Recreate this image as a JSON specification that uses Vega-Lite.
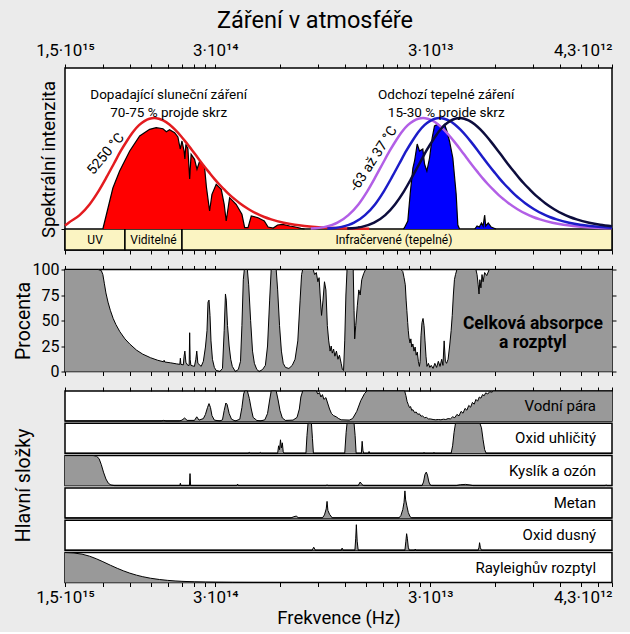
{
"$schema": "https://vega.github.io/schema/vega-lite/v6.json",
"background": "#ebebeb",
"padding": {"left": 12, "right": 17, "top": 8, "bottom": 4},
"title": {"text": "Záření v atmosféře", "fontSize": 23.5, "font": "Roboto", "fontWeight": "normal", "anchor": "middle", "offset": 8, "color": "black"},
"datasets": {
"bands": [
{"lo":0.2,"hi":0.38,"mid":0.276,"name":"UV"},
{"lo":0.38,"hi":0.7,"mid":0.516,"name":"Viditelné"},
{"lo":0.7,"hi":70,"mid":6.77,"name":"Infračervené (tepelné)"}
],
"notes": [
{"p":"head","wl":0.607,"v":134,"t":"Dopadající sluneční záření\n70-75 % projde skrz"},
{"p":"head","wl":11.86,"v":134,"t":"Odchozí tepelné záření\n15-30 % projde skrz"},
{"p":"sun","wl":0.31,"v":75,"t":"5250 °C"},
{"p":"earth","wl":5.46,"v":70,"t":"-63 až 37 °C"},
{"p":"pct","wl":30,"v":46.5,"t":"Celková absorpce\na rozptyl"},
{"p":"Vodní pára","wl":59,"v":50,"t":"Vodní pára"},
{"p":"Oxid uhličitý","wl":59,"v":50,"t":"Oxid uhličitý"},
{"p":"Kyslík a ozón","wl":59,"v":50,"t":"Kyslík a ozón"},
{"p":"Metan","wl":59,"v":50,"t":"Metan"},
{"p":"Oxid dusný","wl":59,"v":50,"t":"Oxid dusný"},
{"p":"Rayleighův rozptyl","wl":59,"v":50,"t":"Rayleighův rozptyl"}
],
"fill": [
{"s":"sun","g":1,"wl":0.3,"v":0},{"s":"sun","g":1,"wl":0.317,"v":21},{"s":"sun","g":1,"wl":0.334,"v":41},{"s":"sun","g":1,"wl":0.359,"v":58},{"s":"sun","g":1,"wl":0.4,"v":78},{"s":"sun","g":1,"wl":0.445,"v":93},{"s":"sun","g":1,"wl":0.495,"v":99.7},{"s":"sun","g":1,"wl":0.531,"v":101.3},{"s":"sun","g":1,"wl":0.571,"v":100.3},{"s":"sun","g":1,"wl":0.592,"v":97.3},{"s":"sun","g":1,"wl":0.613,"v":99.3},{"s":"sun","g":1,"wl":0.647,"v":96.3},{"s":"sun","g":1,"wl":0.67,"v":92},{"s":"sun","g":1,"wl":0.687,"v":80},{"s":"sun","g":1,"wl":0.7,"v":88},{"s":"sun","g":1,"wl":0.716,"v":78},{"s":"sun","g":1,"wl":0.722,"v":70},{"s":"sun","g":1,"wl":0.73,"v":84.7},{"s":"sun","g":1,"wl":0.746,"v":80},{"s":"sun","g":1,"wl":0.76,"v":50},{"s":"sun","g":1,"wl":0.772,"v":74.7},{"s":"sun","g":1,"wl":0.801,"v":69.7},{"s":"sun","g":1,"wl":0.822,"v":59.7},{"s":"sun","g":1,"wl":0.846,"v":68},{"s":"sun","g":1,"wl":0.892,"v":61.3},{"s":"sun","g":1,"wl":0.91,"v":41.3},{"s":"sun","g":1,"wl":0.941,"v":18},{"s":"sun","g":1,"wl":0.965,"v":34.7},{"s":"sun","g":1,"wl":1.01,"v":44.7},{"s":"sun","g":1,"wl":1.066,"v":39.7},{"s":"sun","g":1,"wl":1.1,"v":24.7},{"s":"sun","g":1,"wl":1.124,"v":8},{"s":"sun","g":1,"wl":1.166,"v":31.3},{"s":"sun","g":1,"wl":1.25,"v":24.7},{"s":"sun","g":1,"wl":1.33,"v":14.7},{"s":"sun","g":1,"wl":1.37,"v":1.3},{"s":"sun","g":1,"wl":1.42,"v":1.3},{"s":"sun","g":1,"wl":1.47,"v":13},{"s":"sun","g":1,"wl":1.58,"v":11.3},{"s":"sun","g":1,"wl":1.69,"v":8},{"s":"sun","g":1,"wl":1.76,"v":2},{"s":"sun","g":1,"wl":1.86,"v":1},{"s":"sun","g":1,"wl":1.95,"v":4},{"s":"sun","g":1,"wl":2.06,"v":4.7},{"s":"sun","g":1,"wl":2.22,"v":3},{"s":"sun","g":1,"wl":2.36,"v":2},{"s":"sun","g":1,"wl":2.5,"v":0.7},{"s":"sun","g":1,"wl":2.6,"v":0},
{"s":"earth","g":1,"wl":4.55,"v":0},{"s":"earth","g":1,"wl":4.65,"v":2},{"s":"earth","g":1,"wl":4.75,"v":1},{"s":"earth","g":1,"wl":4.85,"v":0},
{"s":"earth","g":2,"wl":7.5,"v":0},{"s":"earth","g":2,"wl":7.57,"v":1},{"s":"earth","g":2,"wl":7.86,"v":8},{"s":"earth","g":2,"wl":8.06,"v":35},{"s":"earth","g":2,"wl":8.3,"v":61},{"s":"earth","g":2,"wl":8.45,"v":68},{"s":"earth","g":2,"wl":8.69,"v":85},{"s":"earth","g":2,"wl":8.91,"v":78},{"s":"earth","g":2,"wl":9.23,"v":80},{"s":"earth","g":2,"wl":9.4,"v":65},{"s":"earth","g":2,"wl":9.64,"v":58},{"s":"earth","g":2,"wl":9.92,"v":71},{"s":"earth","g":2,"wl":10.2,"v":91},{"s":"earth","g":2,"wl":10.46,"v":103},{"s":"earth","g":2,"wl":10.84,"v":104.7},{"s":"earth","g":2,"wl":11.23,"v":101},{"s":"earth","g":2,"wl":11.65,"v":104.7},{"s":"earth","g":2,"wl":11.94,"v":98},{"s":"earth","g":2,"wl":12.28,"v":88},{"s":"earth","g":2,"wl":12.73,"v":71},{"s":"earth","g":2,"wl":13.19,"v":35},{"s":"earth","g":2,"wl":13.43,"v":4},{"s":"earth","g":2,"wl":13.68,"v":0},
{"s":"earth","g":3,"wl":16.1,"v":0},{"s":"earth","g":3,"wl":16.5,"v":3},{"s":"earth","g":3,"wl":16.9,"v":2},{"s":"earth","g":3,"wl":17.3,"v":6},{"s":"earth","g":3,"wl":17.6,"v":3},{"s":"earth","g":3,"wl":17.9,"v":14},{"s":"earth","g":3,"wl":18.1,"v":3},{"s":"earth","g":3,"wl":18.6,"v":6},{"s":"earth","g":3,"wl":19.2,"v":2},{"s":"earth","g":3,"wl":20.2,"v":0}
],
"curves": [
{"s":"5250 °C","wl":0.2,"v":3.5},{"s":"5250 °C","wl":0.208,"v":6.3},{"s":"5250 °C","wl":0.234,"v":13.9},{"s":"5250 °C","wl":0.26,"v":24.6},{"s":"5250 °C","wl":0.286,"v":37.7},{"s":"5250 °C","wl":0.312,"v":51.8},{"s":"5250 °C","wl":0.338,"v":65.5},{"s":"5250 °C","wl":0.364,"v":78.3},{"s":"5250 °C","wl":0.39,"v":88.8},{"s":"5250 °C","wl":0.416,"v":97.5},{"s":"5250 °C","wl":0.442,"v":103.8},{"s":"5250 °C","wl":0.468,"v":107.9},{"s":"5250 °C","wl":0.494,"v":110.3},{"s":"5250 °C","wl":0.52,"v":111},{"s":"5250 °C","wl":0.546,"v":110.3},{"s":"5250 °C","wl":0.572,"v":108.6},{"s":"5250 °C","wl":0.61,"v":104.8},{"s":"5250 °C","wl":0.65,"v":99.3},{"s":"5250 °C","wl":0.69,"v":93.2},{"s":"5250 °C","wl":0.728,"v":87.1},{"s":"5250 °C","wl":0.78,"v":78.8},{"s":"5250 °C","wl":0.832,"v":70.8},{"s":"5250 °C","wl":0.884,"v":63.3},{"s":"5250 °C","wl":0.936,"v":56.6},{"s":"5250 °C","wl":0.988,"v":50.4},{"s":"5250 °C","wl":1.04,"v":45},{"s":"5250 °C","wl":1.1,"v":39.6},{"s":"5250 °C","wl":1.17,"v":33.9},{"s":"5250 °C","wl":1.235,"v":29.6},{"s":"5250 °C","wl":1.3,"v":25.8},{"s":"5250 °C","wl":1.43,"v":19.8},{"s":"5250 °C","wl":1.56,"v":15.3},{"s":"5250 °C","wl":1.69,"v":12},{"s":"5250 °C","wl":1.82,"v":9.6},{"s":"5250 °C","wl":2.08,"v":6.3},{"s":"5250 °C","wl":2.34,"v":4.25},{"s":"5250 °C","wl":2.6,"v":3},{"s":"5250 °C","wl":3.12,"v":1.6},{"s":"5250 °C","wl":3.6,"v":0.95},{"s":"5250 °C","wl":4.16,"v":0.56},{"s":"5250 °C","wl":5.2,"v":0.25},
{"s":"37 °C","wl":2.78,"v":0.4},{"s":"37 °C","wl":3.24,"v":2.1},{"s":"37 °C","wl":3.7,"v":6.3},{"s":"37 °C","wl":4.16,"v":13.9},{"s":"37 °C","wl":4.63,"v":24.6},{"s":"37 °C","wl":5.09,"v":37.7},{"s":"37 °C","wl":5.55,"v":51.8},{"s":"37 °C","wl":6.01,"v":65.5},{"s":"37 °C","wl":6.48,"v":78.3},{"s":"37 °C","wl":6.94,"v":88.8},{"s":"37 °C","wl":7.4,"v":97.5},{"s":"37 °C","wl":7.86,"v":103.8},{"s":"37 °C","wl":8.33,"v":107.9},{"s":"37 °C","wl":8.79,"v":110.3},{"s":"37 °C","wl":9.25,"v":111},{"s":"37 °C","wl":9.71,"v":110.3},{"s":"37 °C","wl":10.18,"v":108.6},{"s":"37 °C","wl":10.85,"v":104.8},{"s":"37 °C","wl":11.56,"v":99.3},{"s":"37 °C","wl":12.27,"v":93.2},{"s":"37 °C","wl":12.95,"v":87.1},{"s":"37 °C","wl":13.88,"v":78.8},{"s":"37 °C","wl":14.8,"v":70.8},{"s":"37 °C","wl":15.73,"v":63.3},{"s":"37 °C","wl":16.65,"v":56.6},{"s":"37 °C","wl":17.58,"v":50.4},{"s":"37 °C","wl":18.5,"v":45},{"s":"37 °C","wl":19.56,"v":39.6},{"s":"37 °C","wl":20.81,"v":33.9},{"s":"37 °C","wl":21.97,"v":29.6},{"s":"37 °C","wl":23.13,"v":25.8},{"s":"37 °C","wl":25.44,"v":19.8},{"s":"37 °C","wl":27.75,"v":15.3},{"s":"37 °C","wl":30.06,"v":12},{"s":"37 °C","wl":32.38,"v":9.6},{"s":"37 °C","wl":37,"v":6.3},{"s":"37 °C","wl":41.63,"v":4.25},{"s":"37 °C","wl":46.25,"v":3},{"s":"37 °C","wl":55.5,"v":1.6},{"s":"37 °C","wl":70,"v":0.75},
{"s":"-13 °C","wl":3.32,"v":0.4},{"s":"-13 °C","wl":3.87,"v":2.1},{"s":"-13 °C","wl":4.42,"v":6.3},{"s":"-13 °C","wl":4.97,"v":13.9},{"s":"-13 °C","wl":5.53,"v":24.6},{"s":"-13 °C","wl":6.08,"v":37.7},{"s":"-13 °C","wl":6.63,"v":51.8},{"s":"-13 °C","wl":7.18,"v":65.5},{"s":"-13 °C","wl":7.74,"v":78.3},{"s":"-13 °C","wl":8.29,"v":88.8},{"s":"-13 °C","wl":8.84,"v":97.5},{"s":"-13 °C","wl":9.39,"v":103.8},{"s":"-13 °C","wl":9.95,"v":107.9},{"s":"-13 °C","wl":10.5,"v":110.3},{"s":"-13 °C","wl":11.05,"v":111},{"s":"-13 °C","wl":11.6,"v":110.3},{"s":"-13 °C","wl":12.16,"v":108.6},{"s":"-13 °C","wl":12.96,"v":104.8},{"s":"-13 °C","wl":13.81,"v":99.3},{"s":"-13 °C","wl":14.66,"v":93.2},{"s":"-13 °C","wl":15.47,"v":87.1},{"s":"-13 °C","wl":16.58,"v":78.8},{"s":"-13 °C","wl":17.68,"v":70.8},{"s":"-13 °C","wl":18.79,"v":63.3},{"s":"-13 °C","wl":19.89,"v":56.6},{"s":"-13 °C","wl":21,"v":50.4},{"s":"-13 °C","wl":22.1,"v":45},{"s":"-13 °C","wl":23.37,"v":39.6},{"s":"-13 °C","wl":24.86,"v":33.9},{"s":"-13 °C","wl":26.24,"v":29.6},{"s":"-13 °C","wl":27.63,"v":25.8},{"s":"-13 °C","wl":30.39,"v":19.8},{"s":"-13 °C","wl":33.15,"v":15.3},{"s":"-13 °C","wl":35.91,"v":12},{"s":"-13 °C","wl":38.68,"v":9.6},{"s":"-13 °C","wl":44.2,"v":6.3},{"s":"-13 °C","wl":49.73,"v":4.25},{"s":"-13 °C","wl":55.25,"v":3},{"s":"-13 °C","wl":66.3,"v":1.6},{"s":"-13 °C","wl":70,"v":1.35},
{"s":"-63 °C","wl":4.11,"v":0.4},{"s":"-63 °C","wl":4.8,"v":2.1},{"s":"-63 °C","wl":5.48,"v":6.3},{"s":"-63 °C","wl":6.17,"v":13.9},{"s":"-63 °C","wl":6.85,"v":24.6},{"s":"-63 °C","wl":7.54,"v":37.7},{"s":"-63 °C","wl":8.22,"v":51.8},{"s":"-63 °C","wl":8.91,"v":65.5},{"s":"-63 °C","wl":9.59,"v":78.3},{"s":"-63 °C","wl":10.28,"v":88.8},{"s":"-63 °C","wl":10.96,"v":97.5},{"s":"-63 °C","wl":11.65,"v":103.8},{"s":"-63 °C","wl":12.33,"v":107.9},{"s":"-63 °C","wl":13.02,"v":110.3},{"s":"-63 °C","wl":13.7,"v":111},{"s":"-63 °C","wl":14.39,"v":110.3},{"s":"-63 °C","wl":15.07,"v":108.6},{"s":"-63 °C","wl":16.07,"v":104.8},{"s":"-63 °C","wl":17.13,"v":99.3},{"s":"-63 °C","wl":18.18,"v":93.2},{"s":"-63 °C","wl":19.18,"v":87.1},{"s":"-63 °C","wl":20.55,"v":78.8},{"s":"-63 °C","wl":21.92,"v":70.8},{"s":"-63 °C","wl":23.29,"v":63.3},{"s":"-63 °C","wl":24.66,"v":56.6},{"s":"-63 °C","wl":26.03,"v":50.4},{"s":"-63 °C","wl":27.4,"v":45},{"s":"-63 °C","wl":28.98,"v":39.6},{"s":"-63 °C","wl":30.83,"v":33.9},{"s":"-63 °C","wl":32.54,"v":29.6},{"s":"-63 °C","wl":34.25,"v":25.8},{"s":"-63 °C","wl":37.68,"v":19.8},{"s":"-63 °C","wl":41.1,"v":15.3},{"s":"-63 °C","wl":44.53,"v":12},{"s":"-63 °C","wl":47.95,"v":9.6},{"s":"-63 °C","wl":54.8,"v":6.3},{"s":"-63 °C","wl":61.65,"v":4.25},{"s":"-63 °C","wl":70,"v":2.8}
],
"total": [
{"wl":0.2,"v":100},{"wl":0.285,"v":100},{"wl":0.295,"v":99},{"wl":0.3,"v":95},{"wl":0.305,"v":86},{"wl":0.31,"v":77},{"wl":0.317,"v":68},{"wl":0.325,"v":60},{"wl":0.335,"v":52},{"wl":0.345,"v":46},{"wl":0.36,"v":39},{"wl":0.38,"v":32},{"wl":0.4,"v":27},{"wl":0.43,"v":21},{"wl":0.46,"v":17},{"wl":0.5,"v":13.5},{"wl":0.54,"v":11},{"wl":0.575,"v":9.5},{"wl":0.578,"v":11},{"wl":0.582,"v":9.3},{"wl":0.62,"v":8.5},{"wl":0.66,"v":7.5},{"wl":0.684,"v":7},{"wl":0.688,"v":13},{"wl":0.692,"v":7},{"wl":0.71,"v":6.5},{"wl":0.716,"v":15},{"wl":0.722,"v":20},{"wl":0.73,"v":9},{"wl":0.745,"v":6},{"wl":0.756,"v":6},{"wl":0.76,"v":38},{"wl":0.764,"v":12},{"wl":0.77,"v":6},{"wl":0.8,"v":5},{"wl":0.812,"v":12},{"wl":0.82,"v":20},{"wl":0.83,"v":8},{"wl":0.86,"v":5},{"wl":0.88,"v":10},{"wl":0.9,"v":24},{"wl":0.915,"v":40},{"wl":0.925,"v":68},{"wl":0.935,"v":70},{"wl":0.945,"v":55},{"wl":0.955,"v":30},{"wl":0.97,"v":12},{"wl":0.99,"v":4},{"wl":1.01,"v":1},{"wl":1.05,"v":0},{"wl":1.08,"v":3},{"wl":1.1,"v":40},{"wl":1.115,"v":76},{"wl":1.125,"v":70},{"wl":1.14,"v":45},{"wl":1.16,"v":25},{"wl":1.18,"v":12},{"wl":1.2,"v":5},{"wl":1.24,"v":0},{"wl":1.28,"v":2},{"wl":1.31,"v":10},{"wl":1.33,"v":45},{"wl":1.35,"v":90},{"wl":1.365,"v":100},{"wl":1.41,"v":100},{"wl":1.43,"v":85},{"wl":1.46,"v":50},{"wl":1.49,"v":20},{"wl":1.52,"v":8},{"wl":1.56,"v":2},{"wl":1.6,"v":0},{"wl":1.66,"v":2},{"wl":1.71,"v":6},{"wl":1.75,"v":25},{"wl":1.79,"v":70},{"wl":1.82,"v":100},{"wl":1.92,"v":100},{"wl":1.95,"v":80},{"wl":1.99,"v":45},{"wl":2.03,"v":20},{"wl":2.07,"v":8},{"wl":2.12,"v":4},{"wl":2.2,"v":3},{"wl":2.28,"v":6},{"wl":2.35,"v":12},{"wl":2.42,"v":30},{"wl":2.48,"v":70},{"wl":2.52,"v":95},{"wl":2.55,"v":100},{"wl":2.85,"v":100},{"wl":2.9,"v":95},{"wl":2.95,"v":97},{"wl":3.0,"v":88},{"wl":3.04,"v":92},{"wl":3.08,"v":72},{"wl":3.12,"v":55},{"wl":3.17,"v":70},{"wl":3.22,"v":88},{"wl":3.27,"v":80},{"wl":3.32,"v":45},{"wl":3.37,"v":30},{"wl":3.42,"v":20},{"wl":3.46,"v":25},{"wl":3.5,"v":18},{"wl":3.55,"v":22},{"wl":3.6,"v":15},{"wl":3.66,"v":20},{"wl":3.72,"v":12},{"wl":3.78,"v":16},{"wl":3.85,"v":8},{"wl":3.9,"v":2},{"wl":3.95,"v":1},{"wl":4.0,"v":30},{"wl":4.05,"v":75},{"wl":4.1,"v":100},{"wl":4.38,"v":100},{"wl":4.42,"v":60},{"wl":4.45,"v":32},{"wl":4.5,"v":45},{"wl":4.58,"v":65},{"wl":4.65,"v":80},{"wl":4.72,"v":75},{"wl":4.8,"v":90},{"wl":4.9,"v":96},{"wl":5.0,"v":100},{"wl":7.3,"v":100},{"wl":7.45,"v":98},{"wl":7.55,"v":92},{"wl":7.65,"v":85},{"wl":7.72,"v":70},{"wl":7.78,"v":60},{"wl":7.85,"v":48},{"wl":7.9,"v":40},{"wl":7.96,"v":33},{"wl":8.05,"v":28},{"wl":8.12,"v":32},{"wl":8.2,"v":24},{"wl":8.3,"v":27},{"wl":8.4,"v":20},{"wl":8.5,"v":24},{"wl":8.6,"v":16},{"wl":8.7,"v":19},{"wl":8.8,"v":10},{"wl":8.9,"v":5},{"wl":8.97,"v":10},{"wl":9.05,"v":35},{"wl":9.15,"v":48},{"wl":9.25,"v":52},{"wl":9.35,"v":45},{"wl":9.45,"v":30},{"wl":9.55,"v":15},{"wl":9.65,"v":5},{"wl":9.8,"v":8},{"wl":9.95,"v":4},{"wl":10.1,"v":6},{"wl":10.3,"v":3},{"wl":10.5,"v":8},{"wl":10.7,"v":4},{"wl":10.9,"v":10},{"wl":11.1,"v":5},{"wl":11.3,"v":12},{"wl":11.45,"v":6},{"wl":11.6,"v":30},{"wl":11.75,"v":10},{"wl":11.9,"v":8},{"wl":12.1,"v":12},{"wl":12.3,"v":25},{"wl":12.5,"v":40},{"wl":12.65,"v":55},{"wl":12.8,"v":75},{"wl":12.95,"v":90},{"wl":13.1,"v":95},{"wl":13.3,"v":100},{"wl":16.3,"v":100},{"wl":16.5,"v":95},{"wl":16.7,"v":85},{"wl":16.85,"v":76},{"wl":17.0,"v":90},{"wl":17.2,"v":82},{"wl":17.4,"v":95},{"wl":17.6,"v":88},{"wl":17.9,"v":97},{"wl":18.3,"v":94},{"wl":18.8,"v":100},{"wl":70,"v":100}
],
"comp": [
{"c":"Vodní pára","wl":0.2,"v":0},{"c":"Vodní pára","wl":0.56,"v":0},{"c":"Vodní pára","wl":0.575,"v":2},{"c":"Vodní pára","wl":0.59,"v":0},{"c":"Vodní pára","wl":0.68,"v":0},{"c":"Vodní pára","wl":0.7,"v":3},{"c":"Vodní pára","wl":0.72,"v":10},{"c":"Vodní pára","wl":0.74,"v":2},{"c":"Vodní pára","wl":0.8,"v":2},{"c":"Vodní pára","wl":0.82,"v":14},{"c":"Vodní pára","wl":0.84,"v":3},{"c":"Vodní pára","wl":0.88,"v":8},{"c":"Vodní pára","wl":0.9,"v":22},{"c":"Vodní pára","wl":0.92,"v":45},{"c":"Vodní pára","wl":0.935,"v":58},{"c":"Vodní pára","wl":0.95,"v":45},{"c":"Vodní pára","wl":0.965,"v":18},{"c":"Vodní pára","wl":0.99,"v":3},{"c":"Vodní pára","wl":1.05,"v":0},{"c":"Vodní pára","wl":1.08,"v":4},{"c":"Vodní pára","wl":1.1,"v":35},{"c":"Vodní pára","wl":1.12,"v":60},{"c":"Vodní pára","wl":1.135,"v":55},{"c":"Vodní pára","wl":1.16,"v":25},{"c":"Vodní pára","wl":1.19,"v":6},{"c":"Vodní pára","wl":1.24,"v":0},{"c":"Vodní pára","wl":1.3,"v":6},{"c":"Vodní pára","wl":1.33,"v":45},{"c":"Vodní pára","wl":1.355,"v":90},{"c":"Vodní pára","wl":1.37,"v":100},{"c":"Vodní pára","wl":1.41,"v":100},{"c":"Vodní pára","wl":1.44,"v":75},{"c":"Vodní pára","wl":1.47,"v":40},{"c":"Vodní pára","wl":1.5,"v":12},{"c":"Vodní pára","wl":1.56,"v":2},{"c":"Vodní pára","wl":1.62,"v":0},{"c":"Vodní pára","wl":1.7,"v":4},{"c":"Vodní pára","wl":1.75,"v":25},{"c":"Vodní pára","wl":1.79,"v":70},{"c":"Vodní pára","wl":1.82,"v":100},{"c":"Vodní pára","wl":1.92,"v":100},{"c":"Vodní pára","wl":1.96,"v":70},{"c":"Vodní pára","wl":2.0,"v":35},{"c":"Vodní pára","wl":2.05,"v":10},{"c":"Vodní pára","wl":2.12,"v":2},{"c":"Vodní pára","wl":2.3,"v":3},{"c":"Vodní pára","wl":2.4,"v":12},{"c":"Vodní pára","wl":2.46,"v":40},{"c":"Vodní pára","wl":2.5,"v":80},{"c":"Vodní pára","wl":2.55,"v":100},{"c":"Vodní pára","wl":2.95,"v":100},{"c":"Vodní pára","wl":3.0,"v":90},{"c":"Vodní pára","wl":3.05,"v":95},{"c":"Vodní pára","wl":3.1,"v":80},{"c":"Vodní pára","wl":3.15,"v":88},{"c":"Vodní pára","wl":3.2,"v":72},{"c":"Vodní pára","wl":3.27,"v":78},{"c":"Vodní pára","wl":3.33,"v":60},{"c":"Vodní pára","wl":3.4,"v":40},{"c":"Vodní pára","wl":3.47,"v":25},{"c":"Vodní pára","wl":3.55,"v":18},{"c":"Vodní pára","wl":3.65,"v":14},{"c":"Vodní pára","wl":3.75,"v":8},{"c":"Vodní pára","wl":3.85,"v":4},{"c":"Vodní pára","wl":4.2,"v":3},{"c":"Vodní pára","wl":4.35,"v":8},{"c":"Vodní pára","wl":4.45,"v":20},{"c":"Vodní pára","wl":4.55,"v":32},{"c":"Vodní pára","wl":4.65,"v":50},{"c":"Vodní pára","wl":4.75,"v":68},{"c":"Vodní pára","wl":4.85,"v":80},{"c":"Vodní pára","wl":4.95,"v":92},{"c":"Vodní pára","wl":5.08,"v":100},{"c":"Vodní pára","wl":7.6,"v":100},{"c":"Vodní pára","wl":7.7,"v":85},{"c":"Vodní pára","wl":7.8,"v":65},{"c":"Vodní pára","wl":7.9,"v":55},{"c":"Vodní pára","wl":8.0,"v":45},{"c":"Vodní pára","wl":8.1,"v":48},{"c":"Vodní pára","wl":8.2,"v":35},{"c":"Vodní pára","wl":8.3,"v":38},{"c":"Vodní pára","wl":8.45,"v":28},{"c":"Vodní pára","wl":8.6,"v":30},{"c":"Vodní pára","wl":8.75,"v":22},{"c":"Vodní pára","wl":8.9,"v":24},{"c":"Vodní pára","wl":9.05,"v":16},{"c":"Vodní pára","wl":9.2,"v":17},{"c":"Vodní pára","wl":9.4,"v":11},{"c":"Vodní pára","wl":9.6,"v":12},{"c":"Vodní pára","wl":9.8,"v":7},{"c":"Vodní pára","wl":10.0,"v":7},{"c":"Vodní pára","wl":10.3,"v":5},{"c":"Vodní pára","wl":10.6,"v":4},{"c":"Vodní pára","wl":10.9,"v":5},{"c":"Vodní pára","wl":11.2,"v":4},{"c":"Vodní pára","wl":11.5,"v":6},{"c":"Vodní pára","wl":11.8,"v":5},{"c":"Vodní pára","wl":12.1,"v":8},{"c":"Vodní pára","wl":12.4,"v":7},{"c":"Vodní pára","wl":12.7,"v":14},{"c":"Vodní pára","wl":13.0,"v":11},{"c":"Vodní pára","wl":13.3,"v":22},{"c":"Vodní pára","wl":13.6,"v":17},{"c":"Vodní pára","wl":13.9,"v":32},{"c":"Vodní pára","wl":14.2,"v":26},{"c":"Vodní pára","wl":14.5,"v":42},{"c":"Vodní pára","wl":14.8,"v":36},{"c":"Vodní pára","wl":15.1,"v":52},{"c":"Vodní pára","wl":15.4,"v":46},{"c":"Vodní pára","wl":15.7,"v":62},{"c":"Vodní pára","wl":16.0,"v":56},{"c":"Vodní pára","wl":16.3,"v":72},{"c":"Vodní pára","wl":16.6,"v":66},{"c":"Vodní pára","wl":16.9,"v":80},{"c":"Vodní pára","wl":17.2,"v":76},{"c":"Vodní pára","wl":17.5,"v":88},{"c":"Vodní pára","wl":17.8,"v":84},{"c":"Vodní pára","wl":18.1,"v":94},{"c":"Vodní pára","wl":18.5,"v":90},{"c":"Vodní pára","wl":18.9,"v":98},{"c":"Vodní pára","wl":19.3,"v":96},{"c":"Vodní pára","wl":19.7,"v":100},{"c":"Vodní pára","wl":70,"v":100},
{"c":"Oxid uhličitý","wl":0.2,"v":0},{"c":"Oxid uhličitý","wl":1.42,"v":0},{"c":"Oxid uhličitý","wl":1.44,"v":3},{"c":"Oxid uhličitý","wl":1.46,"v":0},{"c":"Oxid uhličitý","wl":1.6,"v":0},{"c":"Oxid uhličitý","wl":1.62,"v":3},{"c":"Oxid uhličitý","wl":1.64,"v":0},{"c":"Oxid uhličitý","wl":1.95,"v":0},{"c":"Oxid uhličitý","wl":1.97,"v":25},{"c":"Oxid uhličitý","wl":1.99,"v":12},{"c":"Oxid uhličitý","wl":2.01,"v":45},{"c":"Oxid uhličitý","wl":2.03,"v":18},{"c":"Oxid uhličitý","wl":2.05,"v":35},{"c":"Oxid uhličitý","wl":2.07,"v":5},{"c":"Oxid uhličitý","wl":2.09,"v":0},{"c":"Oxid uhličitý","wl":2.64,"v":0},{"c":"Oxid uhličitý","wl":2.67,"v":60},{"c":"Oxid uhličitý","wl":2.7,"v":100},{"c":"Oxid uhličitý","wl":2.8,"v":100},{"c":"Oxid uhličitý","wl":2.83,"v":50},{"c":"Oxid uhličitý","wl":2.86,"v":0},{"c":"Oxid uhličitý","wl":4.0,"v":0},{"c":"Oxid uhličitý","wl":4.06,"v":70},{"c":"Oxid uhličitý","wl":4.1,"v":100},{"c":"Oxid uhličitý","wl":4.42,"v":100},{"c":"Oxid uhličitý","wl":4.47,"v":60},{"c":"Oxid uhličitý","wl":4.52,"v":0},{"c":"Oxid uhličitý","wl":4.78,"v":0},{"c":"Oxid uhličitý","wl":4.82,"v":40},{"c":"Oxid uhličitý","wl":4.86,"v":10},{"c":"Oxid uhličitý","wl":4.9,"v":0},{"c":"Oxid uhličitý","wl":5.15,"v":0},{"c":"Oxid uhličitý","wl":5.19,"v":6},{"c":"Oxid uhličitý","wl":5.23,"v":0},{"c":"Oxid uhličitý","wl":9.3,"v":0},{"c":"Oxid uhličitý","wl":9.35,"v":3},{"c":"Oxid uhličitý","wl":9.4,"v":0},{"c":"Oxid uhličitý","wl":10.35,"v":0},{"c":"Oxid uhličitý","wl":10.4,"v":3},{"c":"Oxid uhličitý","wl":10.45,"v":0},{"c":"Oxid uhličitý","wl":12.5,"v":0},{"c":"Oxid uhličitý","wl":12.7,"v":25},{"c":"Oxid uhličitý","wl":12.9,"v":70},{"c":"Oxid uhličitý","wl":13.1,"v":100},{"c":"Oxid uhličitý","wl":17.0,"v":100},{"c":"Oxid uhličitý","wl":17.3,"v":85},{"c":"Oxid uhličitý","wl":17.6,"v":45},{"c":"Oxid uhličitý","wl":17.9,"v":12},{"c":"Oxid uhličitý","wl":18.2,"v":0},{"c":"Oxid uhličitý","wl":70,"v":0},
{"c":"Kyslík a ozón","wl":0.2,"v":100},{"c":"Kyslík a ozón","wl":0.27,"v":100},{"c":"Kyslík a ozón","wl":0.28,"v":98},{"c":"Kyslík a ozón","wl":0.288,"v":90},{"c":"Kyslík a ozón","wl":0.295,"v":70},{"c":"Kyslík a ozón","wl":0.302,"v":45},{"c":"Kyslík a ozón","wl":0.31,"v":22},{"c":"Kyslík a ozón","wl":0.318,"v":8},{"c":"Kyslík a ozón","wl":0.327,"v":2},{"c":"Kyslík a ozón","wl":0.34,"v":0},{"c":"Kyslík a ozón","wl":0.684,"v":0},{"c":"Kyslík a ozón","wl":0.688,"v":8},{"c":"Kyslík a ozón","wl":0.692,"v":0},{"c":"Kyslík a ozón","wl":0.758,"v":0},{"c":"Kyslík a ozón","wl":0.763,"v":40},{"c":"Kyslík a ozón","wl":0.768,"v":0},{"c":"Kyslík a ozón","wl":1.26,"v":0},{"c":"Kyslík a ozón","wl":1.27,"v":5},{"c":"Kyslík a ozón","wl":1.28,"v":0},{"c":"Kyslík a ozón","wl":3.27,"v":0},{"c":"Kyslík a ozón","wl":3.31,"v":2},{"c":"Kyslík a ozón","wl":3.35,"v":0},{"c":"Kyslík a ozón","wl":4.62,"v":0},{"c":"Kyslík a ozón","wl":4.72,"v":12},{"c":"Kyslík a ozón","wl":4.82,"v":3},{"c":"Kyslík a ozón","wl":4.9,"v":0},{"c":"Kyslík a ozón","wl":9.15,"v":0},{"c":"Kyslík a ozón","wl":9.3,"v":12},{"c":"Kyslík a ozón","wl":9.45,"v":38},{"c":"Kyslík a ozón","wl":9.58,"v":45},{"c":"Kyslík a ozón","wl":9.7,"v":35},{"c":"Kyslík a ozón","wl":9.85,"v":12},{"c":"Kyslík a ozón","wl":10.0,"v":2},{"c":"Kyslík a ozón","wl":10.15,"v":0},{"c":"Kyslík a ozón","wl":13.2,"v":0},{"c":"Kyslík a ozón","wl":13.8,"v":3},{"c":"Kyslík a ozón","wl":14.6,"v":4},{"c":"Kyslík a ozón","wl":15.3,"v":2},{"c":"Kyslík a ozón","wl":15.8,"v":0},{"c":"Kyslík a ozón","wl":65,"v":0},{"c":"Kyslík a ozón","wl":65.7,"v":2},{"c":"Kyslík a ozón","wl":66.4,"v":0},{"c":"Kyslík a ozón","wl":70,"v":0},
{"c":"Metan","wl":0.2,"v":0},{"c":"Metan","wl":2.25,"v":0},{"c":"Metan","wl":2.32,"v":4},{"c":"Metan","wl":2.38,"v":6},{"c":"Metan","wl":2.44,"v":0},{"c":"Metan","wl":3.15,"v":0},{"c":"Metan","wl":3.22,"v":10},{"c":"Metan","wl":3.28,"v":30},{"c":"Metan","wl":3.31,"v":55},{"c":"Metan","wl":3.34,"v":25},{"c":"Metan","wl":3.4,"v":12},{"c":"Metan","wl":3.5,"v":0},{"c":"Metan","wl":7.15,"v":0},{"c":"Metan","wl":7.3,"v":8},{"c":"Metan","wl":7.45,"v":28},{"c":"Metan","wl":7.55,"v":52},{"c":"Metan","wl":7.62,"v":90},{"c":"Metan","wl":7.68,"v":60},{"c":"Metan","wl":7.78,"v":40},{"c":"Metan","wl":7.9,"v":18},{"c":"Metan","wl":8.05,"v":4},{"c":"Metan","wl":8.2,"v":0},{"c":"Metan","wl":70,"v":0},
{"c":"Oxid dusný","wl":0.2,"v":0},{"c":"Oxid dusný","wl":2.82,"v":0},{"c":"Oxid dusný","wl":2.87,"v":10},{"c":"Oxid dusný","wl":2.92,"v":0},{"c":"Oxid dusný","wl":3.85,"v":0},{"c":"Oxid dusný","wl":3.89,"v":7},{"c":"Oxid dusný","wl":3.93,"v":0},{"c":"Oxid dusný","wl":4.46,"v":0},{"c":"Oxid dusný","wl":4.5,"v":40},{"c":"Oxid dusný","wl":4.53,"v":85},{"c":"Oxid dusný","wl":4.57,"v":30},{"c":"Oxid dusný","wl":4.62,"v":0},{"c":"Oxid dusný","wl":7.62,"v":0},{"c":"Oxid dusný","wl":7.7,"v":30},{"c":"Oxid dusný","wl":7.76,"v":55},{"c":"Oxid dusný","wl":7.82,"v":40},{"c":"Oxid dusný","wl":7.9,"v":10},{"c":"Oxid dusný","wl":7.98,"v":0},{"c":"Oxid dusný","wl":8.45,"v":0},{"c":"Oxid dusný","wl":8.51,"v":4},{"c":"Oxid dusný","wl":8.57,"v":0},{"c":"Oxid dusný","wl":16.7,"v":0},{"c":"Oxid dusný","wl":16.85,"v":10},{"c":"Oxid dusný","wl":16.95,"v":25},{"c":"Oxid dusný","wl":17.1,"v":8},{"c":"Oxid dusný","wl":17.3,"v":0},{"c":"Oxid dusný","wl":70,"v":0},
{"c":"Rayleighův rozptyl","wl":0.2,"v":99.7},{"c":"Rayleighův rozptyl","wl":0.22,"v":98.3},{"c":"Rayleighův rozptyl","wl":0.24,"v":94.5},{"c":"Rayleighův rozptyl","wl":0.26,"v":87.8},{"c":"Rayleighův rozptyl","wl":0.28,"v":79},{"c":"Rayleighův rozptyl","wl":0.3,"v":69.4},{"c":"Rayleighův rozptyl","wl":0.325,"v":57.7},{"c":"Rayleighův rozptyl","wl":0.35,"v":47.3},{"c":"Rayleighův rozptyl","wl":0.375,"v":38.5},{"c":"Rayleighův rozptyl","wl":0.4,"v":31.3},{"c":"Rayleighův rozptyl","wl":0.43,"v":24.5},{"c":"Rayleighův rozptyl","wl":0.46,"v":19.3},{"c":"Rayleighův rozptyl","wl":0.5,"v":14.2},{"c":"Rayleighův rozptyl","wl":0.55,"v":10},{"c":"Rayleighův rozptyl","wl":0.6,"v":7.1},{"c":"Rayleighův rozptyl","wl":0.65,"v":5.2},{"c":"Rayleighův rozptyl","wl":0.7,"v":3.9},{"c":"Rayleighův rozptyl","wl":0.8,"v":2.3},{"c":"Rayleighův rozptyl","wl":0.9,"v":1.45},{"c":"Rayleighův rozptyl","wl":1.0,"v":0.96},{"c":"Rayleighův rozptyl","wl":1.2,"v":0.46},{"c":"Rayleighův rozptyl","wl":1.5,"v":0.19},{"c":"Rayleighův rozptyl","wl":2,"v":0.06},{"c":"Rayleighův rozptyl","wl":3,"v":0.01},{"c":"Rayleighův rozptyl","wl":70,"v":0}
]
},
"vconcat": [
{
"width": 547, "height": 182,
"layer": [
{"data": {"name": "bands"}, "mark": {"type": "rect", "fill": "#fbf4c2", "stroke": "black", "strokeWidth": 1.5},
 "encoding": {"x": {"field": "lo", "type": "quantitative", "scale": {"type": "log", "domain": [0.2, 70], "nice": false}, "axis": {"orient": "bottom", "values": [0.2,0.3,0.4,0.5,0.6,0.7,0.8,0.9,1,2,3,4,5,6,7,8,9,10,20,30,40,50,60,70], "labels": false, "title": null}},
  "x2": {"field": "hi"},
  "y": {"datum": -21, "type": "quantitative", "scale": {"domain": [-21, 161], "nice": false, "zero": false}, "axis": null},
  "y2": {"datum": 0}}},
{"data": {"name": "bands"}, "mark": {"type": "text", "fontSize": 12, "baseline": "middle", "align": "center"},
 "encoding": {"x": {"field": "mid", "type": "quantitative", "axis": null}, "y": {"datum": -10.5, "type": "quantitative", "axis": null}, "text": {"field": "name"}}},
{"data": {"name": "fill"}, "transform": [{"filter": "datum.s == 'sun'"}], "mark": {"type": "area", "color": "#ff0000"},
 "encoding": {"x": {"field": "wl", "type": "quantitative", "axis": null}, "y": {"field": "v", "type": "quantitative", "axis": null}, "detail": {"field": "g", "type": "nominal"}}},
{"data": {"name": "fill"}, "transform": [{"filter": "datum.s == 'sun'"}], "mark": {"type": "line", "color": "black", "strokeWidth": 1.2},
 "encoding": {"x": {"field": "wl", "type": "quantitative", "axis": null}, "y": {"field": "v", "type": "quantitative", "axis": null}, "detail": {"field": "g", "type": "nominal"}}},
{"data": {"name": "fill"}, "transform": [{"filter": "datum.s == 'earth'"}], "mark": {"type": "area", "color": "#0000ff"},
 "encoding": {"x": {"field": "wl", "type": "quantitative", "axis": null}, "y": {"field": "v", "type": "quantitative", "axis": null}, "detail": {"field": "g", "type": "nominal"}}},
{"data": {"name": "fill"}, "transform": [{"filter": "datum.s == 'earth'"}], "mark": {"type": "line", "color": "black", "strokeWidth": 1.2},
 "encoding": {"x": {"field": "wl", "type": "quantitative", "axis": null}, "y": {"field": "v", "type": "quantitative", "axis": null}, "detail": {"field": "g", "type": "nominal"}}},
{"data": {"name": "curves"}, "mark": {"type": "line", "strokeWidth": 2.5, "interpolate": "monotone"},
 "encoding": {
  "x": {"field": "wl", "type": "quantitative", "axis": {"orient": "top", "values": [0.2,0.3,0.4,0.5,0.6,0.7,0.8,0.9,1,2,3,4,5,6,7,8,9,10,20,30,40,50,60,70], "labelExpr": "datum.value == 0.2 ? '1,5·10¹⁵' : datum.value == 1 ? '3·10¹⁴' : datum.value == 10 ? '3·10¹³' : datum.value == 70 ? '4,3·10¹²' : ''", "labelOverlap": false, "labelFontSize": 17, "labelPadding": 5, "title": null, "labelAlign": {"condition": {"test": "datum.value == 70", "value": "right"}, "value": "center"}}},
  "y": {"field": "v", "type": "quantitative", "axis": {"values": [0], "labels": false, "title": "Spektrální intenzita", "titleFontSize": 18.5, "titleX": -17, "titleBaseline": "middle", "titleAlign": "center"}},
  "color": {"field": "s", "type": "nominal", "scale": {"domain": ["5250 °C", "37 °C", "-13 °C", "-63 °C"], "range": ["#e31b1f", "#b25fe6", "#1c1cc8", "#0d0d3d"]}, "legend": null}}},
{"data": {"name": "notes"}, "transform": [{"filter": "datum.p == 'head'"}], "mark": {"type": "text", "fontSize": 13.5, "lineBreak": "\n", "lineHeight": 17.5, "align": "center", "baseline": "middle"},
 "encoding": {"x": {"field": "wl", "type": "quantitative", "axis": null}, "y": {"field": "v", "type": "quantitative", "axis": null}, "text": {"field": "t"}}},
{"data": {"name": "notes"}, "transform": [{"filter": "datum.p == 'sun'"}], "mark": {"type": "text", "fontSize": 14, "angle": -50, "align": "center", "baseline": "middle"},
 "encoding": {"x": {"field": "wl", "type": "quantitative", "axis": null}, "y": {"field": "v", "type": "quantitative", "axis": null}, "text": {"field": "t"}}},
{"data": {"name": "notes"}, "transform": [{"filter": "datum.p == 'earth'"}], "mark": {"type": "text", "fontSize": 14, "angle": -57, "align": "center", "baseline": "middle"},
 "encoding": {"x": {"field": "wl", "type": "quantitative", "axis": null}, "y": {"field": "v", "type": "quantitative", "axis": null}, "text": {"field": "t"}}}
],
"resolve": {"axis": {"x": "independent", "y": "independent"}}
},
{
"width": 547, "height": 102,
"layer": [
{"data": {"name": "total"}, "mark": {"type": "area", "color": "#999999"},
 "encoding": {"x": {"field": "wl", "type": "quantitative", "scale": {"type": "log", "domain": [0.2, 70], "nice": false}, "axis": {"orient": "bottom", "values": [0.2,0.3,0.4,0.5,0.6,0.7,0.8,0.9,1,2,3,4,5,6,7,8,9,10,20,30,40,50,60,70], "labels": false, "title": null}},
  "y": {"field": "v", "type": "quantitative", "scale": {"domain": [0, 100], "nice": false}, "axis": {"values": [0, 25, 50, 75, 100], "title": "Procenta", "labelFontSize": 16, "labelPadding": 2, "titleFontSize": 19.5, "titleX": -42, "titleBaseline": "middle", "titleAlign": "center"}}}},
{"data": {"name": "total"}, "mark": {"type": "line", "color": "black", "strokeWidth": 1},
 "encoding": {"x": {"field": "wl", "type": "quantitative", "axis": {"orient": "top", "values": [0.2,0.3,0.4,0.5,0.6,0.7,0.8,0.9,1,2,3,4,5,6,7,8,9,10,20,30,40,50,60,70], "labels": false, "title": null}},
  "y": {"field": "v", "type": "quantitative", "axis": {"orient": "right", "values": [0, 25, 50, 75, 100], "labels": false, "title": null}}}},
{"data": {"name": "notes"}, "transform": [{"filter": "datum.p == 'pct'"}], "mark": {"type": "text", "fontSize": 17.5, "fontWeight": "bold", "lineBreak": "\n", "lineHeight": 19, "align": "center", "baseline": "middle"},
 "encoding": {"x": {"field": "wl", "type": "quantitative", "axis": null}, "y": {"field": "v", "type": "quantitative", "axis": null}, "text": {"field": "t"}}}
],
"resolve": {"axis": {"x": "independent", "y": "independent"}}
},
{
"spacing": 2.3,
"bounds": "flush",
"vconcat": [
{"width": 547, "height": 30,
"layer": [
{"data": {"name": "comp"}, "transform": [{"filter": "datum.c == 'Vodní pára'"}], "mark": {"type": "area", "color": "#999999"},
 "encoding": {"x": {"field": "wl", "type": "quantitative", "scale": {"type": "log", "domain": [0.2, 70], "nice": false}, "axis": {"orient": "top", "values": [0.2,0.3,0.4,0.5,0.6,0.7,0.8,0.9,1,2,3,4,5,6,7,8,9,10,20,30,40,50,60,70], "labels": false, "title": null}},
  "y": {"field": "v", "type": "quantitative", "scale": {"domain": [0, 100], "nice": false}, "axis": null}}},
{"data": {"name": "comp"}, "transform": [{"filter": "datum.c == 'Vodní pára'"}], "mark": {"type": "line", "color": "black", "strokeWidth": 1},
 "encoding": {"x": {"field": "wl", "type": "quantitative", "axis": null}, "y": {"field": "v", "type": "quantitative", "axis": null}}},
{"data": {"name": "notes"}, "transform": [{"filter": "datum.p == 'Vodní pára'"}], "mark": {"type": "text", "fontSize": 15, "align": "right", "baseline": "middle"},
 "encoding": {"x": {"field": "wl", "type": "quantitative", "axis": null}, "y": {"field": "v", "type": "quantitative", "axis": null}, "text": {"field": "t"}}}
],
"resolve": {"axis": {"x": "independent", "y": "independent"}}},
{"width": 547, "height": 30,
"layer": [
{"data": {"name": "comp"}, "transform": [{"filter": "datum.c == 'Oxid uhličitý'"}], "mark": {"type": "area", "color": "#999999"},
 "encoding": {"x": {"field": "wl", "type": "quantitative", "scale": {"type": "log", "domain": [0.2, 70], "nice": false}, "axis": null},
  "y": {"field": "v", "type": "quantitative", "scale": {"domain": [0, 100], "nice": false}, "axis": null}}},
{"data": {"name": "comp"}, "transform": [{"filter": "datum.c == 'Oxid uhličitý'"}], "mark": {"type": "line", "color": "black", "strokeWidth": 1},
 "encoding": {"x": {"field": "wl", "type": "quantitative", "axis": null}, "y": {"field": "v", "type": "quantitative", "axis": null}}},
{"data": {"name": "notes"}, "transform": [{"filter": "datum.p == 'Oxid uhličitý'"}], "mark": {"type": "text", "fontSize": 15, "align": "right", "baseline": "middle"},
 "encoding": {"x": {"field": "wl", "type": "quantitative", "axis": null}, "y": {"field": "v", "type": "quantitative", "axis": null}, "text": {"field": "t"}}}
]},
{"width": 547, "height": 30,
"layer": [
{"data": {"name": "comp"}, "transform": [{"filter": "datum.c == 'Kyslík a ozón'"}], "mark": {"type": "area", "color": "#999999"},
 "encoding": {"x": {"field": "wl", "type": "quantitative", "scale": {"type": "log", "domain": [0.2, 70], "nice": false}, "axis": null},
  "y": {"field": "v", "type": "quantitative", "scale": {"domain": [0, 100], "nice": false}, "axis": null}}},
{"data": {"name": "comp"}, "transform": [{"filter": "datum.c == 'Kyslík a ozón'"}], "mark": {"type": "line", "color": "black", "strokeWidth": 1},
 "encoding": {"x": {"field": "wl", "type": "quantitative", "axis": null}, "y": {"field": "v", "type": "quantitative", "axis": null}}},
{"data": {"name": "notes"}, "transform": [{"filter": "datum.p == 'Kyslík a ozón'"}], "mark": {"type": "text", "fontSize": 15, "align": "right", "baseline": "middle"},
 "encoding": {"x": {"field": "wl", "type": "quantitative", "axis": null}, "y": {"field": "v", "type": "quantitative", "axis": null}, "text": {"field": "t"}}}
]},
{"width": 547, "height": 30,
"layer": [
{"data": {"name": "comp"}, "transform": [{"filter": "datum.c == 'Metan'"}], "mark": {"type": "area", "color": "#999999"},
 "encoding": {"x": {"field": "wl", "type": "quantitative", "scale": {"type": "log", "domain": [0.2, 70], "nice": false}, "axis": null},
  "y": {"field": "v", "type": "quantitative", "scale": {"domain": [0, 100], "nice": false}, "axis": {"title": "Hlavní složky", "labels": false, "ticks": false, "titleFontSize": 19.5, "titleX": -42, "titleY": -3, "titleBaseline": "middle", "titleAlign": "center"}}}},
{"data": {"name": "comp"}, "transform": [{"filter": "datum.c == 'Metan'"}], "mark": {"type": "line", "color": "black", "strokeWidth": 1},
 "encoding": {"x": {"field": "wl", "type": "quantitative", "axis": null}, "y": {"field": "v", "type": "quantitative", "axis": null}}},
{"data": {"name": "notes"}, "transform": [{"filter": "datum.p == 'Metan'"}], "mark": {"type": "text", "fontSize": 15, "align": "right", "baseline": "middle"},
 "encoding": {"x": {"field": "wl", "type": "quantitative", "axis": null}, "y": {"field": "v", "type": "quantitative", "axis": null}, "text": {"field": "t"}}}
],
"resolve": {"axis": {"x": "independent", "y": "independent"}}},
{"width": 547, "height": 30,
"layer": [
{"data": {"name": "comp"}, "transform": [{"filter": "datum.c == 'Oxid dusný'"}], "mark": {"type": "area", "color": "#999999"},
 "encoding": {"x": {"field": "wl", "type": "quantitative", "scale": {"type": "log", "domain": [0.2, 70], "nice": false}, "axis": null},
  "y": {"field": "v", "type": "quantitative", "scale": {"domain": [0, 100], "nice": false}, "axis": null}}},
{"data": {"name": "comp"}, "transform": [{"filter": "datum.c == 'Oxid dusný'"}], "mark": {"type": "line", "color": "black", "strokeWidth": 1},
 "encoding": {"x": {"field": "wl", "type": "quantitative", "axis": null}, "y": {"field": "v", "type": "quantitative", "axis": null}}},
{"data": {"name": "notes"}, "transform": [{"filter": "datum.p == 'Oxid dusný'"}], "mark": {"type": "text", "fontSize": 15, "align": "right", "baseline": "middle"},
 "encoding": {"x": {"field": "wl", "type": "quantitative", "axis": null}, "y": {"field": "v", "type": "quantitative", "axis": null}, "text": {"field": "t"}}}
]},
{"width": 547, "height": 30,
"layer": [
{"data": {"name": "comp"}, "transform": [{"filter": "datum.c == 'Rayleighův rozptyl'"}], "mark": {"type": "area", "color": "#999999"},
 "encoding": {"x": {"field": "wl", "type": "quantitative", "scale": {"type": "log", "domain": [0.2, 70], "nice": false}, "axis": {"orient": "bottom", "values": [0.2,0.3,0.4,0.5,0.6,0.7,0.8,0.9,1,2,3,4,5,6,7,8,9,10,20,30,40,50,60,70], "labelExpr": "datum.value == 0.2 ? '1,5·10¹⁵' : datum.value == 1 ? '3·10¹⁴' : datum.value == 10 ? '3·10¹³' : datum.value == 70 ? '4,3·10¹²' : ''", "labelOverlap": false, "labelFontSize": 17, "labelPadding": 3, "title": "Frekvence (Hz)", "titleFontSize": 18.5, "titlePadding": 3, "labelAlign": {"condition": {"test": "datum.value == 70", "value": "right"}, "value": "center"}}},
  "y": {"field": "v", "type": "quantitative", "scale": {"domain": [0, 100], "nice": false}, "axis": null}}},
{"data": {"name": "comp"}, "transform": [{"filter": "datum.c == 'Rayleighův rozptyl'"}], "mark": {"type": "line", "color": "black", "strokeWidth": 1},
 "encoding": {"x": {"field": "wl", "type": "quantitative", "axis": null}, "y": {"field": "v", "type": "quantitative", "axis": null}}},
{"data": {"name": "notes"}, "transform": [{"filter": "datum.p == 'Rayleighův rozptyl'"}], "mark": {"type": "text", "fontSize": 15, "align": "right", "baseline": "middle"},
 "encoding": {"x": {"field": "wl", "type": "quantitative", "axis": null}, "y": {"field": "v", "type": "quantitative", "axis": null}, "text": {"field": "t"}}}
],
"resolve": {"axis": {"x": "independent", "y": "independent"}}}
]
}
],
"spacing": 19.5,
"bounds": "flush",
"config": {
"font": "Roboto",
"view": {"stroke": "black", "strokeWidth": 1.5, "fill": "white"},
"axis": {"domain": false, "grid": false, "tickColor": "black", "tickSize": 4, "tickWidth": 1, "labelColor": "black", "labelFont": "Roboto", "titleFont": "Roboto", "titleColor": "black", "titleFontWeight": "normal", "labelFlush": false, "labelBound": false},
"text": {"font": "Roboto", "color": "black"}
}
}
